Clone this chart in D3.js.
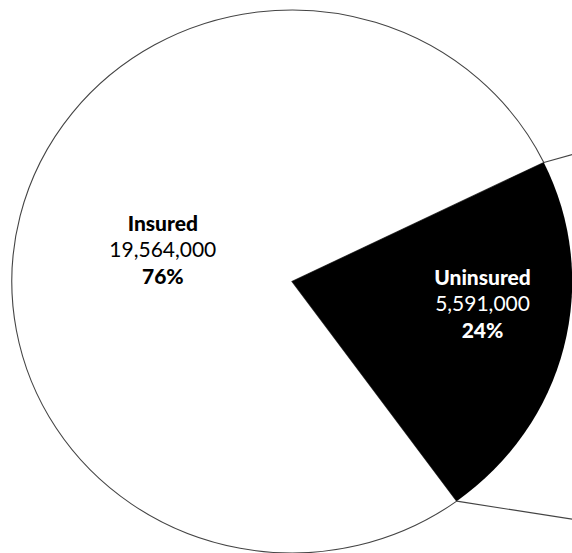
<!DOCTYPE html>
<meta charset="utf-8">
<style>
body { margin: 0; background: #fff; }
svg { display: block; }
.lbl { font-family: Lato, "Open Sans", sans-serif; font-size: 21px; text-anchor: middle; }
.lbl .b { font-weight: 900; }
</style>
<svg width="572" height="553"></svg>
<script src="https://d3js.org/d3.v7.min.js"></script>
<script>

// data
var categories = ["Insured", "Uninsured"];
var counts = [19564000, 5591000];
var percentLabels = ["76%", "24%"];
var fills = ["#ffffff", "#000000"];
var textColors = ["#000000", "#ffffff"];

var svg = d3.select("svg");

// the pie is drawn a bit wider than tall, like the source image
var cx = 292, cy = 281.5, R = 271.5, sx = 1.032;

var data = categories.map(function(c, i) {
  return {name: c, value: counts[i], pct: percentLabels[i], fill: fills[i], text: textColors[i]};
});

var deg = Math.PI / 180;
var pie = d3.pie().sort(null).value(function(d) { return d.value; })
  .startAngle(144 * deg).endAngle(504 * deg);
var arcs = pie(data);

var arc = d3.arc().innerRadius(0).outerRadius(R);

var g = svg.append("g")
  .attr("transform", "translate(" + cx + "," + cy + ") scale(" + sx + ",1)");

g.selectAll("path")
  .data(arcs)
  .enter()
  .append("path")
  .attr("d", arc)
  .attr("fill", function(d) { return d.data.fill; })
  .attr("stroke", function(d, i) { return i == 0 ? "#444" : "none"; })
  .attr("stroke-width", 1.1)
  .attr("vector-effect", "non-scaling-stroke");

// connector lines toward the second (off-screen) pie
function edgePoint(a) {
  return [cx + sx * R * Math.sin(a), cy - R * Math.cos(a)];
}
var sub = arcs[1];
var p1 = edgePoint(sub.startAngle), p2 = edgePoint(sub.endAngle);
var targets = [[800, p1[1] - 0.278 * (800 - p1[0])], [800, p2[1] + 0.156 * (800 - p2[0])]];
svg.selectAll("line.conn")
  .data([[p1, targets[0]], [p2, targets[1]]])
  .enter()
  .append("line")
  .attr("class", "conn")
  .attr("x1", function(d) { return d[0][0]; })
  .attr("y1", function(d) { return d[0][1]; })
  .attr("x2", function(d) { return d[1][0]; })
  .attr("y2", function(d) { return d[1][1]; })
  .attr("stroke", "#444")
  .attr("stroke-width", 1.1);

// label placement: radius and angle nudge (degrees) per slice
var labelRadius = [129, 186];
var labelShift = [0, -7];
var fmt = d3.format(",");

arcs.forEach(function(d, i) {
  var a = (d.startAngle + d.endAngle) / 2 + labelShift[i] * deg;
  var x = cx + sx * labelRadius[i] * Math.sin(a);
  var y = cy - labelRadius[i] * Math.cos(a);
  var t = svg.append("text").attr("class", "lbl").attr("fill", d.data.text);
  t.append("tspan").attr("class", "b").attr("x", x).attr("y", y - 19.5).text(d.data.name);
  t.append("tspan").attr("x", x).attr("y", y + 7).text(fmt(d.data.value));
  t.append("tspan").attr("class", "b").attr("x", x).attr("y", y + 33.5).text(d.data.pct);
});

</script>
